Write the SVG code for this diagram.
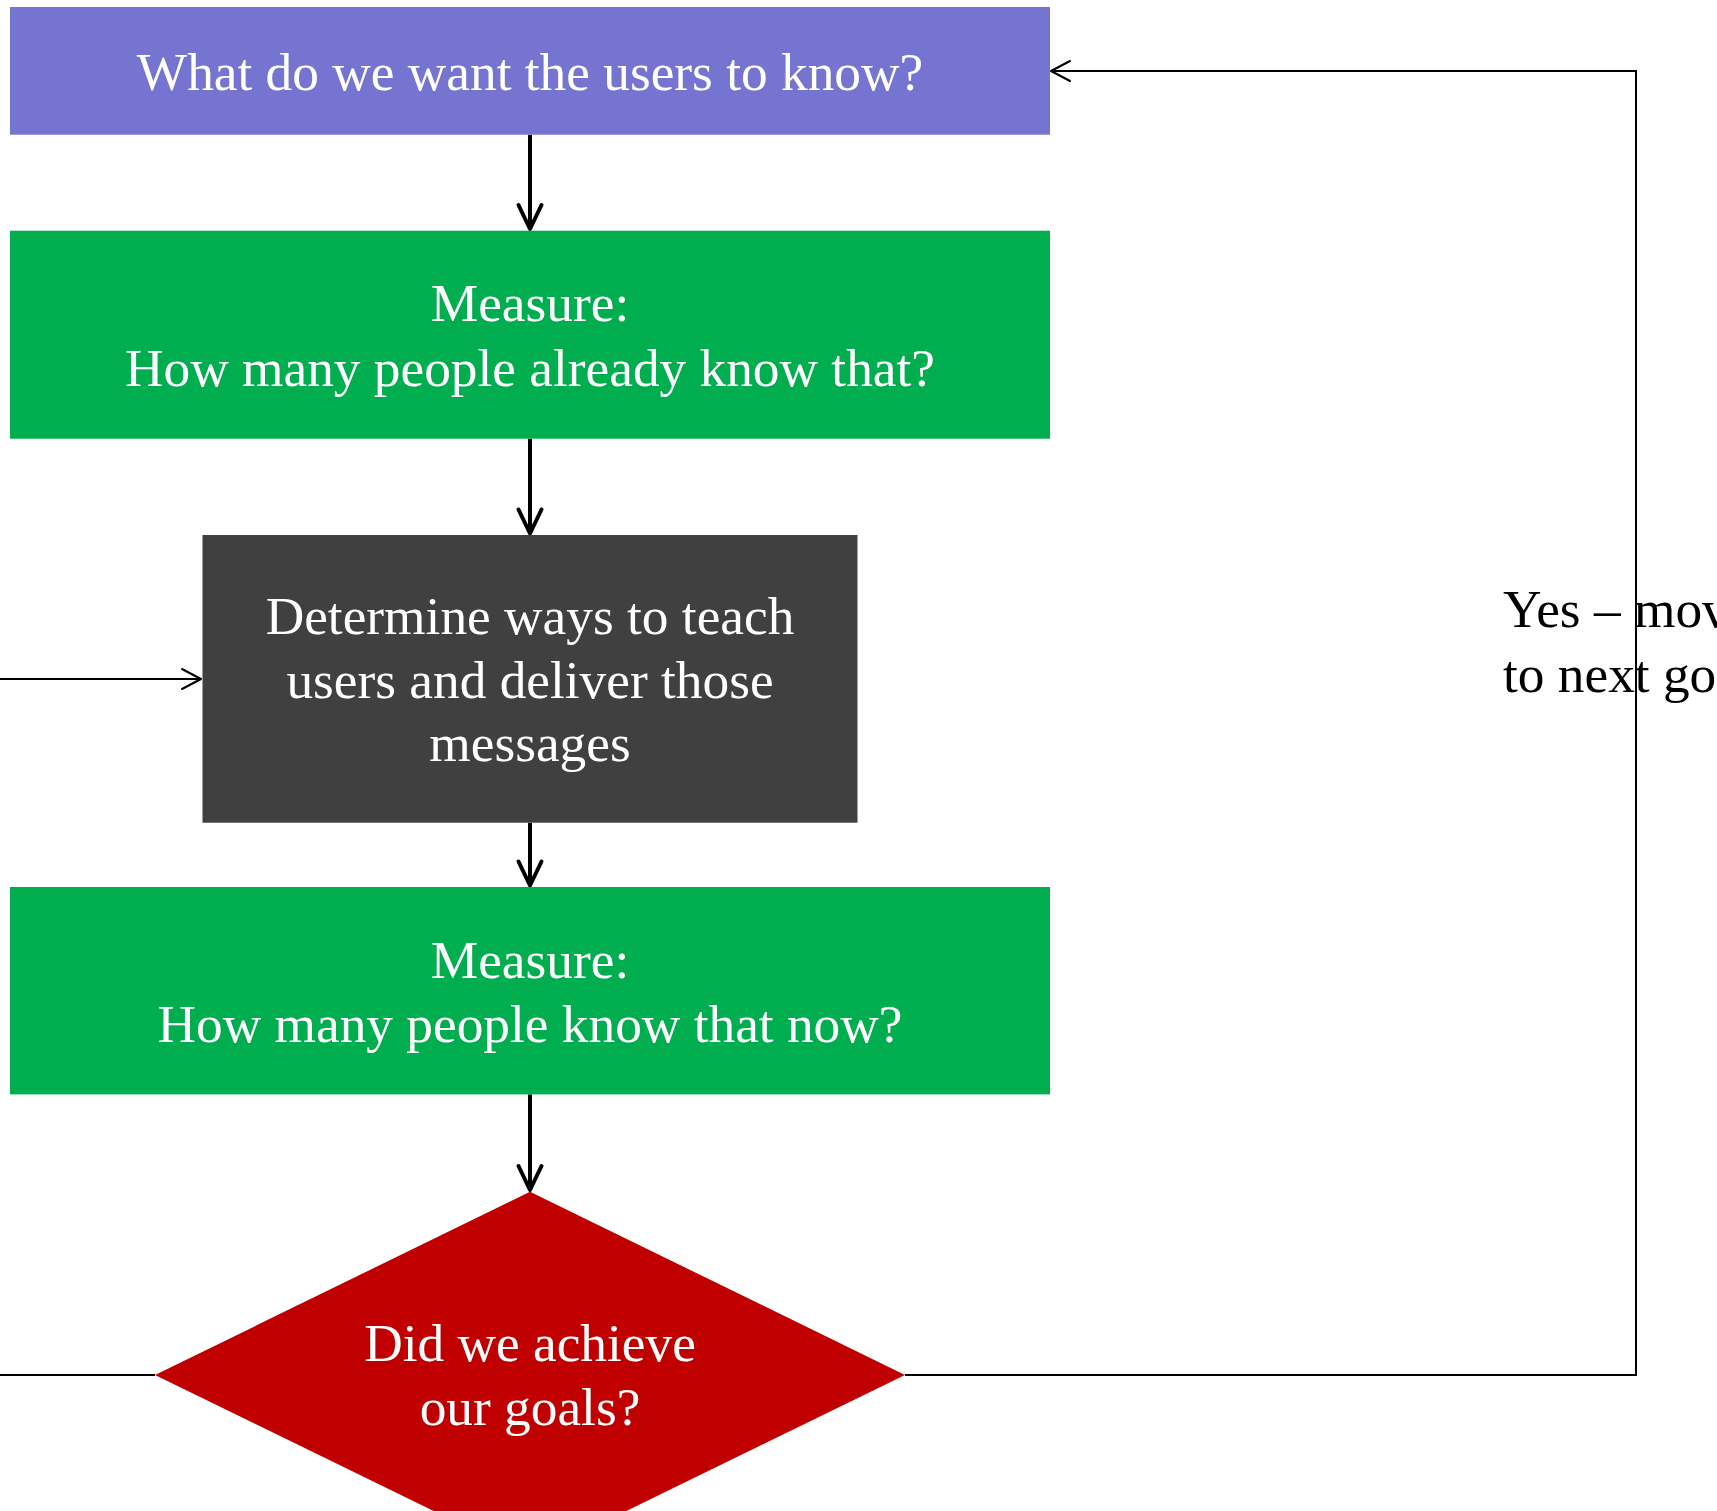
<svg xmlns="http://www.w3.org/2000/svg" width="1717" height="1511" viewBox="0 0 1717 1511">
<style>
text{font-family:"Liberation Serif","Times New Roman",serif;font-size:53.33px;text-anchor:middle}
.w{fill:#ffffff}
.k{fill:#000000;text-anchor:start}
.thick{stroke:#000;stroke-width:4;fill:none}
.thin{stroke:#000;stroke-width:2;fill:none}
</style>
<defs>
<marker id="ah" markerUnits="userSpaceOnUse" orient="auto" refX="0" refY="0" markerWidth="30" markerHeight="30" overflow="visible">
<path d="M-24,-11.5 L0,0 L-24,11.5" fill="none" stroke="#000" stroke-width="4" stroke-linejoin="round" stroke-linecap="round"/>
</marker>
<marker id="ahs" markerUnits="userSpaceOnUse" orient="auto" refX="0" refY="0" markerWidth="30" markerHeight="30" overflow="visible">
<path d="M-19,-10 L0,0 L-19,10" fill="none" stroke="#000" stroke-width="2" stroke-linejoin="round" stroke-linecap="round"/>
</marker>
</defs>
<rect width="1717" height="1511" fill="#ffffff"/>
<g id="connectors">
<path class="thick" d="M530,134.7 V229" marker-end="url(#ah)"/>
<path class="thick" d="M530,438.7 V533.5" marker-end="url(#ah)"/>
<path class="thick" d="M530,822.7 V885.5" marker-end="url(#ah)"/>
<path class="thick" d="M530,1094.4 V1190" marker-end="url(#ah)"/>
<path class="thin" d="M0,679 H201" marker-end="url(#ahs)"/>
<path class="thin" d="M0,1375 H155"/>
<path class="thin" d="M905,1375 H1636 V71 H1051" marker-end="url(#ahs)"/>
</g>
<g id="n1">
<rect x="10" y="7" width="1040" height="127.7" fill="#7575D1"/>
<text class="w" x="530" y="90">What do we want the users to know?</text>
</g>
<g id="n2">
<rect x="10" y="230.7" width="1040" height="208" fill="#00AE50"/>
<text class="w" x="530" y="321">Measure:</text>
<text class="w" x="530" y="386">How many people already know that?</text>
</g>
<g id="n3">
<rect x="202.5" y="535" width="655" height="287.7" fill="#404040"/>
<text class="w" x="530" y="634">Determine ways to teach</text>
<text class="w" x="530" y="698">users and deliver those</text>
<text class="w" x="530" y="761">messages</text>
</g>
<g id="n4">
<rect x="10" y="887" width="1040" height="207.4" fill="#00AE50"/>
<text class="w" x="530" y="978">Measure:</text>
<text class="w" x="530" y="1042">How many people know that now?</text>
</g>
<g id="n5">
<polygon points="530,1191.7 905,1375 530,1558 155,1375" fill="#C00000"/>
<text class="w" x="530" y="1361">Did we achieve</text>
<text class="w" x="530" y="1425">our goals?</text>
</g>
<g id="label-yes">
<text class="k" x="1503" y="627">Yes – move</text>
<text class="k" x="1503" y="692">to next goal</text>
</g>
</svg>
